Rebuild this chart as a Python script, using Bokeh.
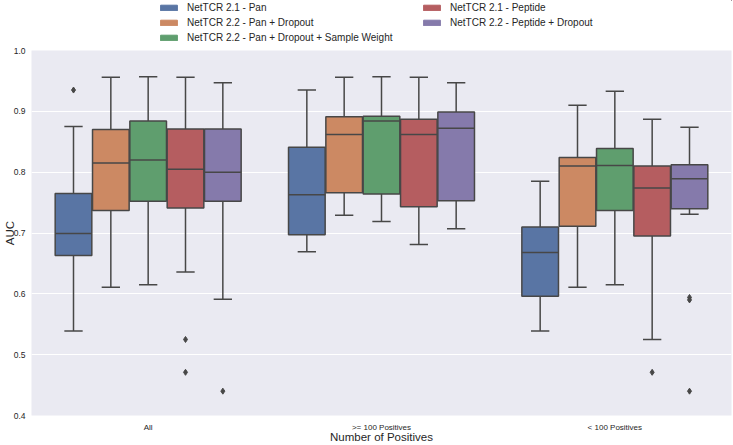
from bokeh.plotting import figure
from bokeh.layouts import column
from bokeh.models import (ColumnDataSource, FactorRange, FixedTicker, Legend, LegendItem,
                          PrintfTickFormatter, Range1d)
from bokeh.transform import dodge
from bokeh.embed import file_html
from bokeh.resources import INLINE

groups = ["All", ">= 100 Positives", "< 100 Positives"]
models = ["NetTCR 2.1 - Pan", "NetTCR 2.2 - Pan + Dropout",
          "NetTCR 2.2 - Pan + Dropout + Sample Weight",
          "NetTCR 2.1 - Peptide", "NetTCR 2.2 - Peptide + Dropout"]
colors = ["#5975A4", "#CC8963", "#5F9E6E", "#B55D60", "#857AAB"]

# per model: values for [All, >=100, <100]
whisk_lo = [[0.539, 0.669, 0.539], [0.611, 0.729, 0.611], [0.615, 0.719, 0.615],
            [0.636, 0.681, 0.525], [0.591, 0.707, 0.731]]
q1 = [[0.663, 0.697, 0.596], [0.737, 0.766, 0.711], [0.752, 0.764, 0.737],
      [0.741, 0.743, 0.695], [0.752, 0.753, 0.740]]
median = [[0.699, 0.763, 0.668], [0.815, 0.862, 0.810], [0.820, 0.884, 0.811],
          [0.805, 0.862, 0.774], [0.800, 0.872, 0.789]]
q3 = [[0.765, 0.841, 0.710], [0.870, 0.891, 0.824], [0.884, 0.892, 0.839],
      [0.871, 0.887, 0.810], [0.871, 0.899, 0.812]]
whisk_hi = [[0.875, 0.935, 0.785], [0.956, 0.956, 0.910], [0.957, 0.957, 0.933],
            [0.956, 0.956, 0.887], [0.947, 0.947, 0.874]]

outlier_group = ["All", "All", "All", "All", "< 100 Positives", "< 100 Positives",
                 "< 100 Positives", "< 100 Positives"]
outlier_model = [0, 3, 3, 4, 3, 4, 4, 4]
outlier_value = [0.935, 0.525, 0.471, 0.440, 0.471, 0.594, 0.590, 0.440]

y_ticks = [0.4, 0.5, 0.6, 0.7, 0.8, 0.9, 1.0]

FONT = "Liberation Sans"
TXT = "#262626"
EDGE = "#474747"

offsets = [-0.32, -0.16, 0.0, 0.16, 0.32]
box_w = 0.157

# ---------------- legend strip ----------------
LEG_H = 44
lf = figure(width=733, height=LEG_H, x_range=Range1d(0, 1), y_range=Range1d(0, 1),
            output_backend="svg", toolbar_location=None,
            x_axis_location=None, y_axis_location=None,
            min_border=0, min_border_left=0, min_border_right=0,
            min_border_top=0, min_border_bottom=0)
lf.outline_line_color = None
lf.background_fill_color = "white"
lf.border_fill_color = "white"
lf.xgrid.visible = False
lf.ygrid.visible = False

legend_renderers = []
for i in range(len(models)):
    # placeholder glyphs (outside the visible range) that carry the legend swatches
    legend_renderers.append(lf.vbar(x=[5], width=0.1, bottom=[5], top=[5],
                                    fill_color=colors[i], line_color=colors[i], line_width=1))

def make_legend(idx, loc):
    lg = Legend(items=[LegendItem(label=models[k], renderers=[legend_renderers[k]]) for k in idx],
                location=loc, orientation="vertical")
    lg.border_line_color = None
    lg.background_fill_alpha = 0
    lg.padding = 0
    lg.margin = 0
    lg.spacing = 3
    lg.glyph_width = 21
    lg.glyph_height = 7
    lg.label_height = 12
    lg.label_standoff = 8
    lg.label_text_font = FONT
    lg.label_text_font_size = "10px"
    lg.label_text_color = TXT
    return lg

lf.add_layout(make_legend([0, 1, 2], (127, LEG_H - 43)), "center")
lf.add_layout(make_legend([3, 4], (390, LEG_H - 28)), "center")

# ---------------- main plot ----------------
p = figure(x_range=FactorRange(*groups), y_range=(0.4, 1.0), width=733, height=445 - LEG_H,
           output_backend="svg", toolbar_location=None,
           min_border_top=50 - LEG_H, min_border_right=2, min_border_left=0, min_border_bottom=0)
p.background_fill_color = "#EAEAF2"
p.border_fill_color = "white"
p.outline_line_color = None
p.xgrid.grid_line_color = None
p.ygrid.grid_line_color = "white"
p.ygrid.grid_line_width = 1
p.yaxis.ticker = FixedTicker(ticks=y_ticks)
p.yaxis.formatter = PrintfTickFormatter(format="%.1f")

for ax in (p.xaxis[0], p.yaxis[0]):
    ax.axis_line_color = None
    ax.major_tick_line_color = None
    ax.minor_tick_line_color = None
    ax.major_label_text_font = FONT
    ax.major_label_text_color = TXT
    ax.axis_label_text_font = FONT
    ax.axis_label_text_color = TXT
    ax.axis_label_text_font_style = "normal"
    ax.axis_label_text_font_size = "11.5px"

p.xaxis.axis_label = "Number of Positives"
p.yaxis.axis_label = "AUC"
p.xaxis.major_label_text_font_size = "8px"
p.yaxis.major_label_text_font_size = "8.5px"
p.xaxis.major_label_standoff = 7
p.yaxis.major_label_standoff = 6
p.xaxis.axis_label_standoff = -4
p.yaxis.axis_label_standoff = -5
p.xaxis.major_tick_out = 0
p.yaxis.major_tick_out = 0

for i, m in enumerate(models):
    src = ColumnDataSource(dict(group=groups, lo=whisk_lo[i], q1=q1[i], med=median[i],
                                q3=q3[i], hi=whisk_hi[i]))
    off = offsets[i]
    xc = dodge("group", off, range=p.x_range)
    xl = dodge("group", off - box_w / 2, range=p.x_range)
    xr = dodge("group", off + box_w / 2, range=p.x_range)
    cl = dodge("group", off - box_w / 4, range=p.x_range)
    cr = dodge("group", off + box_w / 4, range=p.x_range)
    p.segment(x0=xc, x1=xc, y0="q3", y1="hi", source=src, line_color=EDGE, line_width=1.5)
    p.segment(x0=xc, x1=xc, y0="q1", y1="lo", source=src, line_color=EDGE, line_width=1.5)
    p.segment(x0=cl, x1=cr, y0="hi", y1="hi", source=src, line_color=EDGE, line_width=1.5)
    p.segment(x0=cl, x1=cr, y0="lo", y1="lo", source=src, line_color=EDGE, line_width=1.5)
    p.vbar(x=xc, width=box_w, bottom="q1", top="q3", source=src,
           fill_color=colors[i], line_color=EDGE, line_width=1.5)
    p.segment(x0=xl, x1=xr, y0="med", y1="med", source=src, line_color=EDGE, line_width=1.5)

    og = [g for g, mi in zip(outlier_group, outlier_model) if mi == i]
    ov = [v for v, mi in zip(outlier_value, outlier_model) if mi == i]
    if og:
        osrc = ColumnDataSource(dict(group=og, val=ov))
        p.scatter(x=xc, y="val", source=osrc, marker="diamond", size=6,
                  fill_color=EDGE, line_color=EDGE)

layout = column(lf, p, spacing=0)
open("out.html", "w").write(file_html(layout, INLINE))
